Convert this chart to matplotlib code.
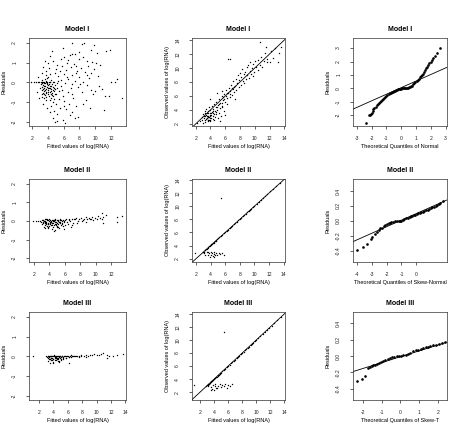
import matplotlib
matplotlib.use("Agg")
import matplotlib.pyplot as plt
import numpy as np

plt.rcParams['font.family'] = ['Liberation Sans', 'DejaVu Sans']

# ---------------- data (fitted, value) pairs ----------------
# Model I residuals vs fitted
m1_res = [(1.9,0),(2.2,0),(2.5,0),(2.7,0),(2.9,0),(3.1,0),(3.3,0),(3.5,0),(3.7,0),(3.9,0),(4.1,0),(4.3,0),
  (3.1,-0.1),(3.2,-0.25),(3.3,-0.4),(3.35,-0.15),(3.4,-0.55),(3.45,-0.3),(3.5,-0.05),(3.55,-0.45),(3.6,-0.2),(3.65,-0.65),
  (3.7,-0.35),(3.75,0.1),(3.8,-0.5),(3.85,-0.25),(3.9,-0.1),(3.95,-0.6),(4.0,-0.4),(4.05,-0.15),(4.1,-0.7),(4.15,-0.3),
  (4.2,0.05),(4.25,-0.5),(4.3,-0.2),(4.35,-0.8),(4.4,-0.35),(4.45,0.15),(4.5,-0.55),(4.55,-0.1),(4.6,-0.4),(4.65,-0.25),
  (4.7,-0.7),(4.75,0.05),(4.8,-0.45),(4.9,-0.15),(5.0,-0.6),(3.3,0.15),(3.6,0.2),(3.9,0.25),(4.2,-0.9),(3.5,-0.8),
  (4.6,-1.0),(3.8,-0.75),(4.0,0.3),(3.2,-0.6),(3.4,0.05),(4.8,-0.85),(5.1,-0.3),(5.2,-0.05),(4.4,-0.6),(3.7,-0.9),
  (3.25,-0.05),(3.35,-0.35),(3.45,-0.6),(3.55,-0.2),(3.65,-0.4),(3.75,-0.55),(3.85,-0.05),(3.95,-0.3),(4.05,-0.5),(4.15,-0.1),
  (4.25,-0.3),(4.35,-0.45),(4.45,-0.2),(4.55,-0.65),(4.65,0.0),(4.75,-0.3),(4.85,-0.6),(4.95,-0.35),(3.3,-0.75),(3.6,-0.05),
  (7.1,2.0),(8.35,1.97),(8.6,2.0),(9.8,1.9),(4.5,1.6),(7.1,1.46),(7.45,1.46),(11.35,1.6),(4.3,1.34),(6.1,1.3),
  (3.6,1.1),(4.7,1.07),(8.95,1.07),(9.6,1.05),(10.1,1.0),(6.4,1.0),(7.3,0.95),(5.2,0.9),(5.8,0.85),(3.4,0.8),
  (4.1,0.75),(6.9,0.8),(8.2,0.75),(9.1,0.85),(10.6,0.9),(5.5,0.6),(6.3,0.65),(7.7,0.6),(3.8,0.6),(4.9,0.5),
  (8.7,0.55),(9.5,0.5),(6.0,0.45),(7.0,0.4),(5.3,0.35),(8.0,0.3),(9.2,0.25),(10.3,0.35),(6.6,0.2),(5.7,0.15),
  (7.4,0.1),(8.5,0.05),(12.0,0.05),(12.5,0.05),(6.2,-0.05),(7.0,-0.1),(5.6,-0.2),(7.8,-0.25),(9.0,-0.15),(10.0,-0.45),
  (5.4,-0.45),(6.5,-0.5),(8.3,-0.5),(9.7,-0.6),(11.3,-0.7),(11.7,-0.7),(13.4,-0.78),(5.9,-0.7),(7.2,-0.8),(6.1,-0.95),
  (8.8,-0.9),(5.0,-1.1),(6.7,-1.1),(7.6,-1.2),(4.4,-1.2),(5.5,-1.3),(6.3,-1.35),(4.8,-1.45),(7.0,-1.5),(5.2,-1.6),
  (6.8,-1.65),(7.4,-1.8),(5.9,-1.9),(4.9,-2.0),(5.1,-1.95),(6.2,-2.05),(7.8,-1.75),(3.4,-1.1),(3.9,-1.3),(4.2,-1.5),
  (4.6,-1.8),(8.5,-1.1),(9.3,-1.3),(10.8,-0.35),(11.9,1.65),(8.0,1.2),(7.9,1.55),(5.9,1.75),(9.4,1.65),(6.6,1.15),
  (4.0,1.0),(3.2,0.5),(2.8,0.3),(3.0,-0.3),(2.6,-0.5),(2.9,-0.8),(10.2,1.5),(12.8,0.2),(11.1,-1.4),
  (5.3,0.1),(5.8,-0.4),(6.4,0.3),(6.9,-0.3),(7.5,0.5),(8.1,-0.1),(8.9,0.4),(9.4,-0.4),(5.0,0.7),(5.6,1.2),
  (6.8,1.4),(7.6,0.85),(8.4,1.3),(9.9,0.7),(10.5,-0.2),(4.3,0.45),(3.7,0.4),(5.4,-0.85),(6.0,-1.2),(7.1,-0.6)]

# Model I observed vs fitted
m1_obs = [(2.6,2.4),(2.8,3.0),(2.9,2.6),(3.0,3.4),(3.1,2.8),(3.2,2.5),(3.2,3.8),(3.3,3.1),(3.4,2.7),(3.4,4.2),
  (3.5,3.5),(3.5,2.9),(3.6,2.5),(3.6,3.9),(3.7,3.2),(3.7,2.6),(3.8,4.4),(3.8,3.0),(3.9,2.8),(3.9,3.6),
  (4.0,2.5),(4.0,4.0),(4.1,3.3),(4.1,2.9),(4.2,4.6),(4.2,3.7),(4.3,2.7),(4.3,3.1),(4.4,4.2),(4.4,3.5),
  (4.5,2.6),(4.5,4.9),(4.6,3.8),(4.6,3.0),(4.7,4.4),(4.8,3.4),(4.8,5.2),(4.9,4.0),(5.0,2.8),(5.0,4.7),
  (5.1,3.6),(5.2,5.5),(5.3,4.3),(5.4,3.2),(5.5,5.0),(5.6,6.0),(5.6,4.6),(5.7,5.4),(5.8,3.9),(5.9,6.3),
  (6.0,5.1),(6.1,6.8),(6.2,5.7),(6.3,4.8),(6.4,6.4),(6.5,7.2),(6.6,5.9),(6.7,6.7),(6.8,7.6),(6.9,6.1),
  (7.0,7.0),(7.1,8.1),(7.2,6.5),(7.3,7.4),(7.4,8.5),(7.5,6.9),(7.6,7.8),(7.7,9.0),(7.8,7.3),(7.9,8.3),
  (8.0,9.3),(8.1,7.6),(8.2,8.7),(8.3,9.8),(8.4,8.1),(8.5,9.1),(8.6,7.9),(8.7,9.5),(8.8,8.4),(8.9,10.1),
  (9.0,9.0),(9.1,10.4),(9.2,8.6),(9.3,9.6),(9.4,10.8),(9.5,9.2),(9.6,10.0),(9.7,8.9),(9.8,10.6),(9.9,9.5),
  (10.0,11.0),(10.2,10.1),(10.4,9.7),(10.5,11.2),(10.7,10.4),(10.9,11.6),(11.0,10.2),(11.2,11.0),(11.4,12.1),(11.6,11.3),
  (12.0,10.9),(12.2,12.4),(12.5,11.5),(12.8,12.9),(13.3,12.2),(13.5,13.0),(6.4,11.3),(6.7,11.3),(3.0,2.2),(2.2,2.2),
  (5.6,6.7),(6.0,3.3),(7.3,5.6),(4.9,6.4),(5.3,2.4),(3.9,5.5),(10.7,13.7),(11.5,13.0),(13.2,10.9),(11.7,10.9),
  (3.3,2.3),(3.6,2.4),(3.5,2.9),(3.8,2.6),(3.4,3.3),(3.7,3.0),(4.0,3.2),(3.9,2.4),
  (3.1,3.1),(3.3,3.6),(3.5,3.2),(3.7,3.5),(3.9,3.3),(4.1,3.6),(4.3,3.9),(4.5,3.4),(4.7,3.7),(4.9,4.4),
  (5.1,4.9),(5.3,5.0),(5.5,4.4),(5.7,5.8),(5.9,5.5),(6.1,6.0),(6.3,6.4),(6.6,6.3),(6.9,7.1),(7.2,7.3)]

# Model I QQ (normal)
m1_qq_x = [-2.39,-2.2,-2.12,-2.05,-1.98,-1.92,-1.87,-1.8,-1.72,-1.64,-1.56,-1.48,-1.41,-1.34,-1.27,-1.2,-1.13,-1.06,-0.99,-0.92,-0.85,-0.78,-0.71,-0.64,-0.57,-0.5,-0.43,-0.36,-0.29,-0.22,-0.15,-0.08,-0.01,0.06,0.13,0.2,0.27,0.34,0.41,0.48,0.55,0.62,0.69,0.76,0.83,0.9,0.97,1.04,1.11,1.18,1.25,1.32,1.39,1.46,1.53,1.6,1.67,1.74,1.82,1.9,1.99,2.08,2.18,2.3,2.45,2.62]
m1_qq_y = [-2.56,-2.0,-1.97,-1.93,-1.8,-1.65,-1.52,-1.45,-1.36,-1.27,-1.17,-1.08,-1.0,-0.92,-0.85,-0.78,-0.7,-0.63,-0.56,-0.49,-0.43,-0.38,-0.33,-0.28,-0.24,-0.2,-0.16,-0.12,-0.09,-0.06,-0.04,-0.02,-0.01,0.0,0.0,0.0,0.01,0.01,0.02,0.04,0.07,0.11,0.15,0.21,0.29,0.38,0.46,0.55,0.64,0.73,0.82,0.91,1.0,1.1,1.22,1.36,1.5,1.62,1.75,1.88,2.0,2.12,2.25,2.4,2.6,3.0]
m1_qq_line = [0.05, 0.49]  # intercept, slope

# Model II residuals vs fitted
m2_res = [(1.9,0),(2.3,0),(2.6,0),(2.8,0.02),(3.0,-0.05),(3.1,0.05),(3.2,-0.12),(3.3,0.0),(3.4,-0.2),(3.5,0.08),
  (3.6,-0.1),(3.7,-0.25),(3.8,0.03),(3.9,-0.15),(4.0,0.1),(4.1,-0.05),(4.2,-0.22),(4.3,0.06),(4.4,-0.12),(4.5,-0.3),
  (4.6,0.0),(4.7,-0.18),(4.8,0.08),(4.9,-0.08),(5.0,-0.25),(5.1,0.04),(5.2,-0.15),(5.3,-0.05),(5.4,0.1),(5.5,-0.2),
  (5.6,0.02),(5.7,-0.1),(3.2,0.05),(3.4,-0.08),(3.6,0.1),(3.8,-0.18),(4.0,-0.28),(4.2,0.0),(4.4,-0.1),(4.6,-0.22),
  (4.8,0.06),(5.0,-0.35),(3.5,-0.4),(3.9,-0.3),(4.3,-0.45),(4.7,-0.5),(5.2,-0.3),(3.9,-0.37),(4.6,-0.53),(5.3,-0.4),
  (5.9,-0.45),(6.1,0.05),(6.3,-0.05),(6.5,0.1),(6.7,0.0),(6.9,0.12),(7.1,-0.1),(7.3,0.08),(7.5,0.15),(7.7,0.02),
  (7.9,0.1),(8.1,0.18),(8.3,0.05),(8.5,0.12),(8.7,0.2),(8.9,0.08),(9.1,0.15),(9.3,0.1),(9.5,0.22),(9.7,0.05),
  (9.9,0.18),(10.1,0.12),(10.3,0.25),(10.5,0.15),(10.8,0.08),(11.0,0.2),(11.3,0.3),(10.76,0.43),(12.76,0.22),(13.4,0.28),
  (12.76,-0.08),(10.9,-0.13),(6.4,-0.15),(7.0,-0.2),(7.6,-0.1),(8.2,0.0),(8.8,-0.05),(9.4,0.1),(6.0,-0.2),(5.8,-0.25),
  (6.8,-0.3),(3.3,-0.02),(3.5,-0.12),(3.7,0.05),(4.1,-0.17),(4.5,0.04),(4.9,-0.2),(5.4,-0.12),(3.1,-0.15),(3.3,-0.3),
  (3.25,-0.08),(3.45,0.02),(3.55,-0.18),(3.65,-0.05),(3.75,0.08),(3.85,-0.1),(3.95,0.0),(4.05,-0.12),(4.15,0.05),(4.25,-0.08),
  (4.35,-0.2),(4.45,0.0),(4.55,-0.1),(4.65,0.05),(4.75,-0.05),(4.85,-0.15),(4.95,0.03),(5.05,-0.1),(5.15,0.0),(5.25,-0.08),
  (5.35,0.04),(5.45,-0.05),(5.55,0.06),(5.65,-0.15),(5.75,0.05),(5.85,-0.05),(5.95,0.0),(6.2,0.08),(6.6,0.06),(7.2,0.1)]

# Model II observed vs fitted
m2_obs = [(2.9,3.0),(3.0,3.1),(3.1,3.05),(3.2,3.3),(3.3,3.35),(3.4,3.45),(3.5,3.55),(3.6,3.7),(3.7,3.75),(3.8,3.9),
  (3.9,3.95),(4.0,4.05),(4.1,4.2),(4.2,4.25),(4.3,4.35),(4.4,4.45),(4.5,4.6),(4.6,4.65),(4.7,4.75),(4.8,4.85),
  (4.9,4.95),(5.0,5.1),(5.2,5.25),(5.4,5.45),(5.6,5.65),(5.8,5.85),(6.0,6.05),(6.2,6.25),(6.4,6.45),(6.6,6.65),
  (6.8,6.85),(7.0,7.05),(7.2,7.25),(7.4,7.45),(7.6,7.65),(7.8,7.85),(8.0,8.05),(8.2,8.25),(8.4,8.45),(8.6,8.65),
  (8.8,8.85),(9.0,9.05),(9.2,9.25),(9.4,9.45),(9.6,9.65),(9.8,9.85),(10.0,10.05),(10.3,10.35),(10.6,10.65),(10.9,10.95),
  (11.2,11.25),(11.5,11.55),(11.8,11.85),(12.2,12.25),(12.6,12.65),(13.0,13.05),(13.5,13.55),
  (3.1,2.9),(3.3,2.6),(3.5,3.0),(3.6,2.5),(3.8,2.8),(3.9,2.3),(4.0,3.0),(4.1,2.6),(4.2,2.9),(4.3,2.4),
  (4.4,2.7),(4.5,3.0),(4.6,2.5),(4.7,2.8),(4.9,2.6),(5.1,2.9),(5.3,2.7),(5.6,2.8),(5.9,2.5),(4.4,2.2),
  (3.7,3.1),(1.8,2.8),(5.4,11.2)]

# Model II QQ (skew-normal)
m2_qq_x = [-4.0,-3.6,-3.38,-3.1,-2.98,-2.78,-2.65,-2.56,-2.45,-2.35,-2.22,-2.1,-1.98,-1.88,-1.78,-1.68,-1.58,-1.45,-1.32,-1.2,-1.11,-1.0,-0.9,-0.8,-0.67,-0.55,-0.45,-0.35,-0.25,-0.15,-0.05,0.05,0.15,0.25,0.35,0.45,0.55,0.67,0.78,0.9,1.0,1.1,1.2,1.33,1.45,1.55,1.65,1.82]
m2_qq_y = [-0.39,-0.35,-0.31,-0.24,-0.22,-0.18,-0.15,-0.12,-0.1,-0.09,-0.073,-0.06,-0.045,-0.035,-0.03,-0.02,-0.012,-0.008,-0.004,0.0,0.0,0.005,0.012,0.02,0.033,0.045,0.055,0.063,0.07,0.077,0.082,0.09,0.1,0.108,0.117,0.125,0.133,0.14,0.152,0.163,0.172,0.18,0.19,0.2,0.215,0.23,0.245,0.27]
m2_qq_line = [0.097, 0.087]

# Model III residuals vs fitted
m3_res = [(1.2,0.0),(3.0,0.0),(3.1,-0.05),(3.2,0.03),(3.3,-0.1),(3.4,0.0),(3.5,-0.15),(3.6,0.05),(3.7,-0.08),(3.8,-0.2),
  (3.9,0.02),(4.0,-0.12),(4.1,0.06),(4.2,-0.05),(4.3,-0.18),(4.4,0.0),(4.5,-0.1),(4.6,0.04),(4.7,-0.22),(4.8,-0.05),
  (4.9,0.02),(5.0,-0.12),(5.2,0.0),(5.4,-0.08),(5.6,0.05),(5.8,-0.1),(6.0,0.02),(6.2,-0.05),(6.4,0.06),(6.6,0.0),
  (3.3,-0.25),(3.6,-0.18),(3.9,-0.27),(4.2,-0.2),(4.5,-0.15),(4.8,-0.24),(5.1,-0.2),(3.57,-0.35),(4.0,-0.33),(6.2,-0.35),
  (4.8,-0.3),(6.8,0.0),(7.0,0.03),(7.3,0.05),(7.6,0.02),(7.9,0.06),(8.2,0.04),(8.5,0.08),(8.8,0.05),(9.1,0.1),
  (9.4,0.06),(9.7,0.12),(10.0,0.08),(10.3,0.1),(10.6,0.14),(10.9,0.18),(11.4,0.07),(11.8,0.05),(12.3,0.0),(12.9,0.1),
  (13.7,0.13),(11.5,-0.1),(7.5,-0.05),(8.6,-0.03),(3.4,-0.05),(3.7,0.02),(4.3,-0.08),(4.6,-0.12),(5.3,-0.15),(5.7,0.0),
  (3.25,0.05),(3.35,-0.03),(3.45,-0.12),(3.55,0.0),(3.65,-0.1),(3.75,0.04),(3.85,-0.06),(3.95,-0.15),(4.05,0.02),(4.15,-0.08),
  (4.25,0.03),(4.35,-0.05),(4.45,-0.15),(4.55,0.02),(4.65,-0.06),(4.75,0.03),(4.85,-0.1),(4.95,0.0),(5.05,-0.05),(5.15,0.04),
  (5.3,-0.02),(5.5,0.03),(5.7,-0.06),(5.9,0.04),(6.1,-0.02),(6.3,0.02),(6.5,-0.03),(6.7,0.04),(7.1,0.0),(7.8,0.03)]

# Model III observed vs fitted
m3_obs = [(2.9,2.95),(3.0,3.05),(3.1,3.1),(3.2,3.25),(3.3,3.3),(3.4,3.4),(3.5,3.5),(3.6,3.65),(3.7,3.7),(3.8,3.8),
  (3.9,3.9),(4.0,4.0),(4.1,4.1),(4.2,4.2),(4.3,4.3),(4.4,4.4),(4.5,4.5),(4.6,4.6),(4.7,4.7),(4.8,4.8),
  (4.9,4.9),(5.0,5.0),(5.2,5.2),(5.4,5.4),(5.6,5.6),(5.8,5.8),(6.0,6.0),(6.2,6.2),(6.4,6.4),(6.6,6.6),
  (6.8,6.8),(7.0,7.0),(7.2,7.2),(7.4,7.4),(7.6,7.6),(7.8,7.8),(8.0,8.0),(8.2,8.2),(8.4,8.4),(8.6,8.6),
  (8.8,8.8),(9.0,9.0),(9.2,9.2),(9.4,9.4),(9.6,9.6),(9.8,9.8),(10.0,10.0),(10.3,10.3),(10.6,10.6),(10.9,10.9),
  (11.2,11.2),(11.5,11.5),(11.8,11.8),(12.2,12.2),(12.6,12.6),(13.0,13.0),(13.5,13.5),
  (3.1,3.0),(3.3,3.2),(3.5,2.8),(3.7,2.5),(3.9,3.1),(4.1,2.9),(4.2,3.3),(4.4,2.7),(4.6,3.0),(4.8,3.2),
  (5.0,2.8),(5.2,3.1),(5.4,2.9),(5.6,3.3),(5.8,2.7),(6.0,3.1),(6.3,3.0),(4.0,2.3),(4.3,2.6),(3.6,2.4),
  (1.2,3.1),(5.4,11.2),(6.6,3.3)]

# Model III QQ (skew-T)
m3_qq_x = [-2.3,-2.07,-1.9,-1.72,-1.62,-1.52,-1.44,-1.36,-1.25,-1.15,-1.03,-0.91,-0.8,-0.68,-0.56,-0.45,-0.33,-0.2,-0.08,0.04,0.16,0.28,0.4,0.52,0.69,0.82,0.95,1.08,1.22,1.35,1.48,1.6,1.76,1.9,2.05,2.2,2.38]
m3_qq_y = [-0.305,-0.28,-0.25,-0.15,-0.135,-0.125,-0.115,-0.107,-0.095,-0.085,-0.075,-0.066,-0.052,-0.038,-0.025,-0.015,-0.008,0.0,0.003,0.005,0.008,0.015,0.025,0.038,0.058,0.068,0.078,0.088,0.1,0.108,0.115,0.122,0.13,0.14,0.15,0.16,0.17]
m3_qq_line = [-0.009, 0.072]

titles = ["Model I", "Model II", "Model III"]
xlab_fit = "Fitted values of log(RNA)"
ylab_res = "Residuals"
ylab_obs = "Observed values of log(RNA)"
xlab_qq = ["Theoretical Quantiles of Normal", "Theoretical Quantiles of Skew-Normal", "Theoretical Quantiles of Skew-T"]

# ---------------- figure ----------------
fig = plt.figure(figsize=(4.55, 4.28), dpi=100)
W, H = 455.0, 428.0
cols = [(29, 126), (192, 285), (353, 447)]
rows = [(38, 126), (179, 262), (312, 400)]

def make_ax(r, c):
    x0, x1 = cols[c]
    y0, y1 = rows[r]
    return fig.add_axes([x0 / W, 1 - y1 / H, (x1 - x0) / W, (y1 - y0) / H])

def style(ax, title, xlabel, ylabel, xlim, ylim, xticks, yticks, ylabels=None):
    ax.set_xlim(*xlim)
    ax.set_ylim(*ylim)
    ax.set_xticks(xticks)
    ax.set_xticklabels([str(t) for t in xticks])
    ax.set_yticks(yticks)
    if ylabels is None:
        ylabels = [str(t) for t in yticks]
    ax.set_yticklabels(ylabels, rotation=90, va='center')
    ax.tick_params(axis='both', direction='out', length=2.5, width=0.5,
                   labelsize=3.6, colors='#222222')
    ax.tick_params(axis='x', pad=4.5)
    ax.tick_params(axis='y', pad=6)
    for s in ax.spines.values():
        s.set_linewidth(0.5)
        s.set_color('#333333')
    ax.set_title(title, fontsize=5.0, fontweight='bold', pad=5)
    ax.set_xlabel(xlabel, fontsize=4.0, labelpad=2.5)
    ax.set_ylabel(ylabel, fontsize=4.0, labelpad=4)

pt = dict(s=1.0, c='black', linewidths=0, marker='o')
qpt = dict(s=3.6, c='black', linewidths=0, marker='o')

res_sets = [m1_res, m2_res, m3_res]
obs_sets = [m1_obs, m2_obs, m3_obs]
qq_x = [m1_qq_x, m2_qq_x, m3_qq_x]
qq_y = [m1_qq_y, m2_qq_y, m3_qq_y]
qq_line = [m1_qq_line, m2_qq_line, m3_qq_line]

res_xlim = [(1.6, 13.9), (1.4, 13.9), (0.6, 14.1)]
res_xticks = [[2, 4, 6, 8, 10, 12], [2, 4, 6, 8, 10, 12], [2, 4, 6, 8, 10, 12, 14]]
obs_lims = [((1.5, 14.1), (1.7, 14.3)), ((1.45, 14.2), (1.5, 14.15)), ((0.86, 14.1), (0.8, 14.3))]
qq_lims = [((-3.25, 3.1), (-2.8, 3.75)), ((-4.3, 2.1), (-0.55, 0.56)), ((-2.53, 2.48), (-0.54, 0.54))]
qq_xticks = [[-3, -2, -1, 0, 1, 2, 3], [-4, -3, -2, -1, 0], [-2, -1, 0, 1, 2]]
qq_yticks = [[-2, -1, 0, 1, 2, 3], [-0.4, -0.2, 0.0, 0.2, 0.4], [-0.4, -0.2, 0.0, 0.2, 0.4]]
qq_ylabels = [None, ["-0.4", "-0.2", "0.0", "0.2", "0.4"], ["-0.4", "-0.2", "0.0", "0.2", "0.4"]]

for r in range(3):
    ax = make_ax(r, 0)
    rx, ry = zip(*res_sets[r])
    ax.scatter(rx, ry, **pt)
    style(ax, titles[r], xlab_fit, ylab_res, res_xlim[r], (-2.2, 2.25),
          res_xticks[r], [-2, -1, 0, 1, 2])

    ax = make_ax(r, 1)
    ox, oy = zip(*obs_sets[r])
    ax.scatter(ox, oy, **pt)
    lim = obs_lims[r]
    xx = np.array([-5, 20])
    ax.plot(xx, xx, color='black', lw=0.6)
    style(ax, titles[r], xlab_fit, ylab_obs, lim[0], lim[1],
          [2, 4, 6, 8, 10, 12, 14], [2, 4, 6, 8, 10, 12, 14])

    ax = make_ax(r, 2)
    ax.scatter(qq_x[r], qq_y[r], **qpt)
    a, b = qq_line[r]
    xx = np.array([-6, 6])
    ax.plot(xx, a + b * xx, color='black', lw=0.6)
    style(ax, titles[r], xlab_qq[r], ylab_res, qq_lims[r][0], qq_lims[r][1],
          qq_xticks[r], qq_yticks[r], qq_ylabels[r])

fig.savefig("out.png", dpi=100)
